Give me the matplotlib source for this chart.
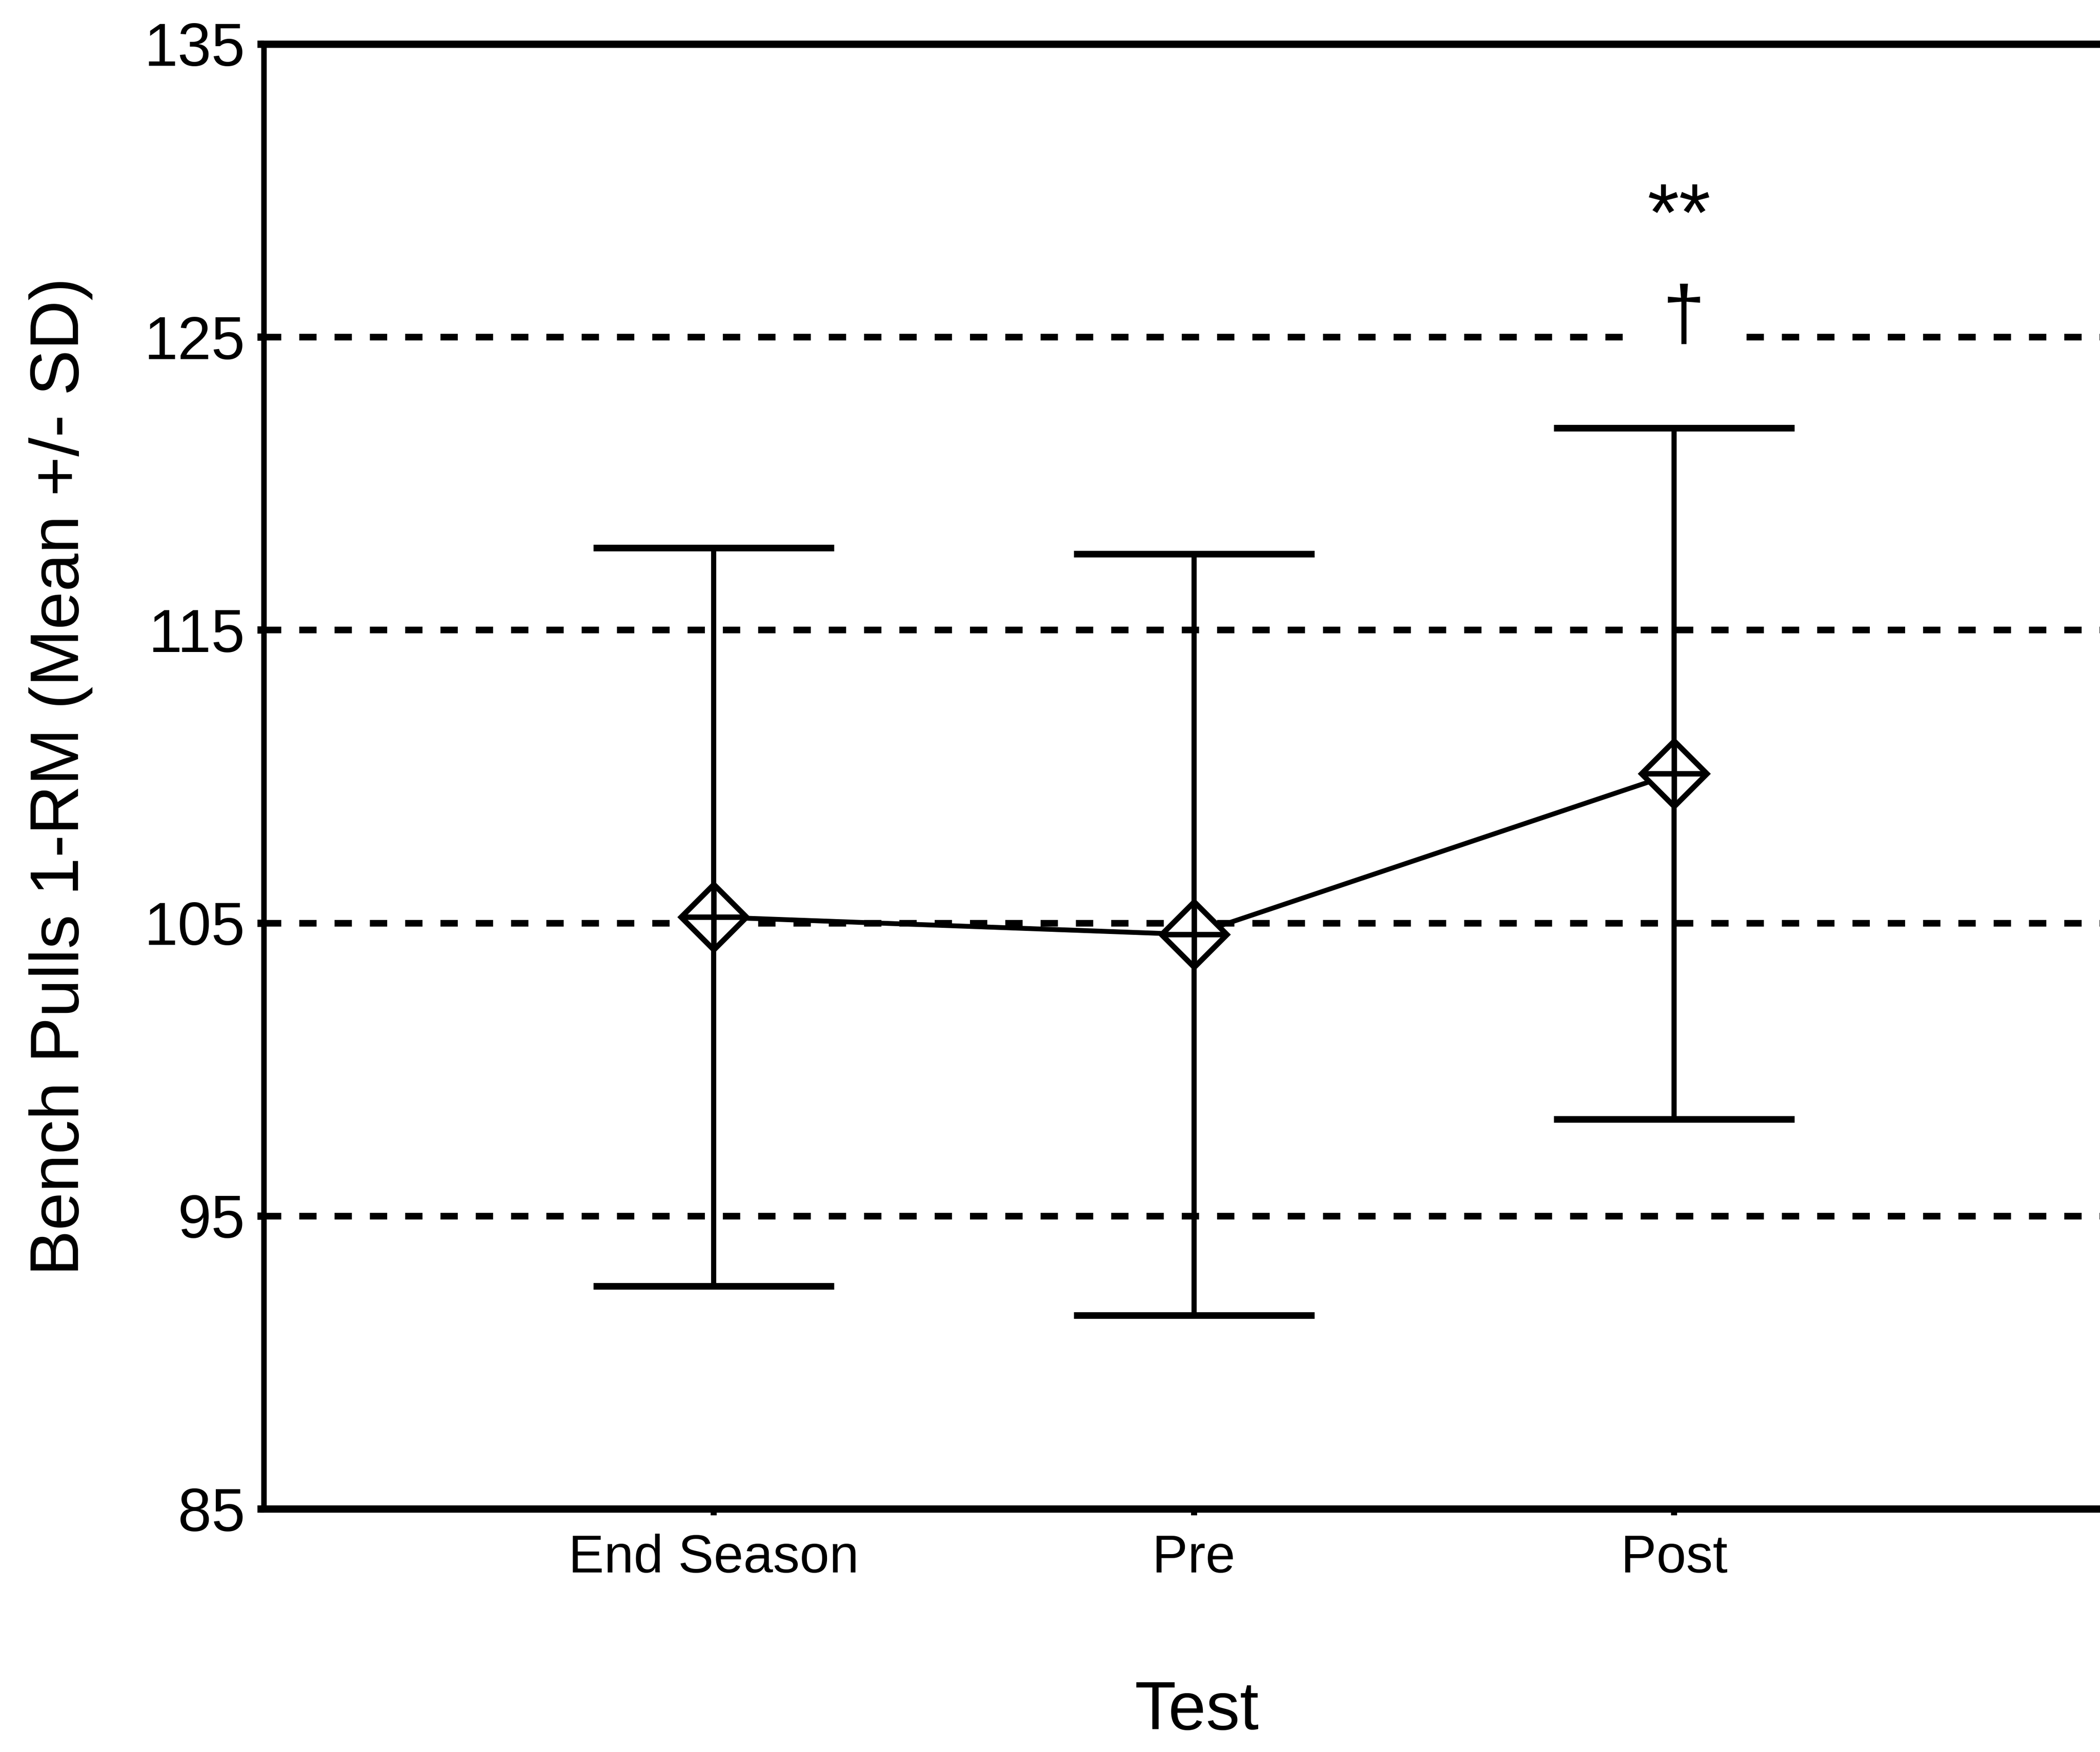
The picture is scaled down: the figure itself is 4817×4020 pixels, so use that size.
import matplotlib
matplotlib.use("Agg")
import matplotlib.pyplot as plt

# values
tests = ["End Season", "Pre", "Post"]
means = [105.2, 104.6, 110.1]
sds = [12.6, 13.0, 11.8]
y_ticks = [85, 95, 105, 115, 125, 135]
grid_vals = [95, 105, 115, 125]

plt.rcParams["font.family"] = ["Liberation Sans", "DejaVu Sans"]

fig = plt.figure(figsize=(48.17, 40.20), dpi=100)
ax = fig.add_axes([0.1256, 0.1388, 0.8744, 0.8361])

xs = list(range(1, len(tests) + 1))

# dashed reference lines
ax.hlines(grid_vals, 0.063, 3.887, colors="black", linewidth=11,
          linestyles=(0, (2.6, 2.7)), zorder=1)

# error bars (mean +/- SD)
ax.errorbar(xs, means, yerr=sds, fmt="none", ecolor="black",
            elinewidth=8.5, capsize=199, capthick=11, zorder=2)

# mean line with diamond-plus markers
ax.plot(xs, means, color="black", linewidth=8, zorder=3)
ax.plot(xs, means, linestyle="none", marker="D", markersize=76,
        markerfacecolor="white", markeredgecolor="black",
        markeredgewidth=9, zorder=4)
ax.plot(xs, means, linestyle="none", marker="+", markersize=104,
        markeredgecolor="black", markeredgewidth=9, zorder=5)

# significance marks above Post
ax.text(3.01, 128.3, "**", ha="center", va="baseline", fontsize=135, zorder=6)
ax.text(3.02, 124.95, "\u2020", ha="center", va="baseline", fontsize=126,
        zorder=6,
        bbox=dict(boxstyle="square,pad=0.48", fc="white", ec="none"))

ax.set_xlim(0.063, 3.887)
ax.set_ylim(85, 135)
ax.set_xticks(xs)
ax.set_xticklabels(tests)
ax.set_yticks(y_ticks)

for side in ["left", "bottom", "top"]:
    ax.spines[side].set_linewidth(12)
ax.spines["left"].set_linewidth(9)
ax.spines["right"].set_visible(False)

ax.tick_params(axis="y", direction="out", length=11, width=12,
               labelsize=100, pad=20)
ax.tick_params(axis="x", direction="out", length=11, width=10,
               labelsize=88, pad=30)

ax.set_ylabel("Bench Pulls 1-RM (Mean +/- SD)", fontsize=113)
ax.yaxis.set_label_coords(-0.093, 0.5)
ax.set_xlabel("Test", fontsize=112)
ax.xaxis.set_label_coords(0.508, -0.117)

fig.savefig("out.png", dpi=100)
